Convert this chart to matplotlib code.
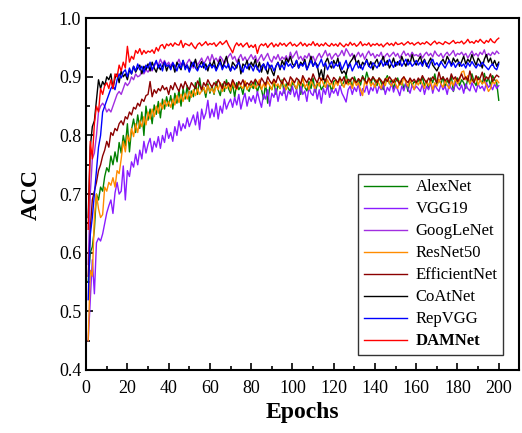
import matplotlib
matplotlib.use('Agg')
import matplotlib.pyplot as plt
import numpy as np

plt.rcParams['font.family'] = ['Liberation Serif', 'DejaVu Serif']
plt.rcParams['mathtext.fontset'] = 'stix'

# accuracy per epoch (x1000)
alexnet = [
    550, 600, 610, 640, 700, 690, 712, 705, 730, 745, 738, 765, 750, 772, 755, 788, 770, 800, 782, 820,
    772, 810, 828, 805, 835, 812, 840, 800, 850, 826, 845, 820, 852, 836, 858, 830, 862, 845, 866, 850,
    868, 845, 872, 855, 878, 850, 880, 862, 885, 858, 876, 866, 890, 870, 898, 875, 882, 865, 888, 872,
    885, 870, 892, 878, 868, 888, 875, 895, 880, 872, 888, 865, 890, 878, 884, 870, 892, 880, 875, 888,
    880, 892, 874, 886, 878, 862, 890, 855, 884, 878, 892, 870, 886, 880, 895, 872, 888, 880, 875, 890,
    885, 878, 895, 870, 888, 882, 876, 892, 880, 898, 874, 886, 890, 878, 884, 896, 880, 888, 875, 892,
    895, 888, 900, 885, 892, 905, 888, 896, 882, 900, 890, 895, 886, 902, 892, 908, 895, 888, 900, 892,
    885, 898, 890, 878, 895, 902, 888, 895, 880, 892, 898, 886, 894, 880, 890, 875, 896, 885, 892, 888,
    895, 888, 900, 885, 892, 880, 898, 890, 905, 886, 895, 888, 900, 882, 894, 888, 902, 875, 890, 898,
    885, 895, 890, 880, 898, 888, 905, 892, 885, 900, 895, 888, 906, 890, 898, 885, 902, 895, 890, 860,
]
vgg19 = [
    450, 520, 588, 530, 617, 625, 620, 632, 650, 668, 680, 690, 667, 702, 720, 700, 705, 748, 690, 740,
    730, 755, 746, 768, 750, 775, 760, 790, 770, 785, 795, 772, 790, 780, 798, 778, 800, 788, 812, 795,
    805, 790, 815, 800, 825, 808, 820, 812, 830, 815, 825, 835, 818, 840, 810, 845, 828, 838, 860, 830,
    845, 832, 855, 828, 850, 838, 862, 845, 855, 862, 848, 865, 852, 870, 845, 860, 872, 850, 866, 858,
    868, 855, 875, 860, 848, 870, 862, 878, 850, 872, 865, 880, 858, 875, 868, 882, 860, 876, 870, 884,
    866, 878, 860, 885, 870, 876, 858, 882, 872, 868, 885, 862, 878, 855, 880, 870, 886, 865, 878, 872,
    880, 868, 885, 872, 865, 857, 878, 884, 870, 882, 875, 888, 868, 880, 874, 886, 870, 882, 876, 888,
    872, 884, 878, 888, 870, 882, 876, 890, 874, 885, 878, 868, 884, 876, 890, 880, 872, 886, 878, 884,
    880, 875, 888, 870, 884, 878, 890, 872, 886, 880, 875, 888, 878, 884, 870, 888, 880, 876, 890, 882,
    878, 886, 872, 888, 880, 876, 890, 882, 874, 888, 880, 884, 876, 890, 882, 886, 878, 888, 880, 885,
]
googlenet = [
    580, 700, 760, 770, 800, 840, 850, 855, 850, 840, 845, 840, 850, 860, 870, 875, 870, 880, 890, 885,
    890, 900, 895, 905, 900, 902, 910, 905, 912, 908, 915, 910, 918, 925, 920, 930, 922, 928, 920, 925,
    918, 925, 915, 922, 930, 920, 926, 918, 924, 930, 922, 915, 928, 920, 926, 932, 922, 928, 935, 925,
    938, 928, 932, 925, 935, 930, 922, 928, 935, 940, 930, 935, 925, 932, 938, 928, 934, 926, 932, 938,
    930, 936, 925, 932, 938, 928, 934, 940, 930, 925, 935, 930, 938, 928, 934, 930, 936, 926, 942, 932,
    938, 944, 930, 935, 928, 936, 932, 940, 930, 935, 926, 934, 940, 932, 938, 945, 935, 940, 930, 936,
    940, 934, 938, 945, 936, 948, 942, 935, 940, 930, 936, 942, 934, 940, 930, 938, 944, 936, 940, 932,
    938, 935, 942, 930, 936, 940, 934, 938, 942, 935, 940, 932, 938, 944, 936, 940, 934, 942, 936, 938,
    935, 940, 932, 938, 942, 936, 940, 934, 944, 938, 935, 940, 932, 938, 942, 936, 940, 945, 935, 940,
    938, 942, 936, 940, 932, 938, 944, 936, 940, 935, 942, 938, 946, 934, 940, 936, 942, 938, 944, 940,
]
resnet50 = [
    450, 570, 560, 660, 700, 675, 660, 665, 712, 705, 720, 715, 728, 712, 740, 735, 760, 790, 772, 800,
    790, 812, 798, 820, 805, 825, 815, 832, 818, 840, 828, 845, 832, 850, 838, 855, 845, 860, 850, 858,
    848, 862, 852, 868, 856, 870, 858, 872, 862, 875, 865, 878, 868, 880, 870, 876, 882, 872, 885, 875,
    880, 872, 885, 878, 890, 875, 884, 880, 888, 876, 892, 882, 878, 890, 884, 880, 893, 878, 886, 882,
    890, 880, 886, 895, 878, 888, 882, 892, 885, 878, 895, 884, 888, 880, 893, 886, 878, 890, 884, 896,
    886, 880, 892, 885, 898, 882, 888, 878, 894, 886, 880, 892, 884, 898, 888, 882, 895, 886, 890, 880,
    892, 885, 898, 888, 882, 895, 886, 890, 880, 894, 885, 890, 878, 868, 892, 886, 898, 884, 890, 882,
    895, 888, 880, 892, 885, 898, 890, 884, 895, 888, 880, 893, 886, 900, 890, 884, 895, 888, 878, 892,
    886, 895, 888, 880, 894, 885, 892, 878, 890, 884, 896, 888, 882, 894, 886, 880, 892, 885, 898, 888,
    894, 908, 910, 895, 902, 888, 896, 890, 900, 886, 895, 888, 892, 885, 875, 880, 892, 888, 895, 890,
]
efficientnet = [
    560, 640, 690, 705, 720, 740, 750, 765, 775, 790, 780, 805, 800, 812, 808, 820, 825, 818, 832, 828,
    840, 835, 848, 845, 855, 850, 862, 858, 868, 870, 892, 866, 878, 872, 880, 876, 885, 878, 882, 870,
    885, 878, 890, 882, 875, 888, 880, 892, 884, 878, 890, 885, 880, 893, 886, 878, 890, 884, 895, 888,
    882, 890, 885, 895, 888, 880, 892, 886, 890, 883, 895, 888, 880, 892, 887, 895, 884, 890, 886, 893,
    888, 896, 890, 885, 898, 892, 886, 900, 893, 888, 896, 890, 902, 894, 888, 898, 892, 886, 900, 895,
    890, 898, 894, 888, 902, 895, 890, 898, 893, 905, 896, 890, 900, 894, 898, 892, 903, 896, 890, 899,
    895, 890, 898, 893, 900, 888, 896, 892, 899, 894, 890, 897, 892, 900, 895, 889, 898, 893, 900, 895,
    890, 898, 894, 888, 897, 892, 900, 895, 890, 898, 893, 888, 896, 900, 894, 890, 898, 892, 896, 890,
    898, 893, 902, 895, 890, 898, 893, 900, 896, 890, 908, 895, 900, 893, 898, 890, 905, 896, 900, 892,
    898, 905, 895, 900, 893, 910, 896, 890, 902, 895, 898, 908, 893, 900, 896, 905, 892, 898, 903, 900,
]
coatnet = [
    660, 780, 815, 825, 860, 895, 880, 892, 885, 900, 895, 905, 880, 898, 905, 890, 910, 900, 905, 895,
    912, 905, 918, 908, 915, 920, 905, 918, 912, 922, 910, 925, 915, 908, 920, 912, 918, 925, 910, 920,
    915, 922, 908, 925, 918, 912, 928, 915, 920, 910, 925, 918, 930, 912, 920, 926, 915, 922, 910, 924,
    918, 928, 912, 922, 930, 915, 925, 935, 918, 910, 925, 920, 915, 930, 905, 922, 918, 928, 912, 925,
    918, 930, 912, 925, 908, 922, 915, 905, 920, 910, 902, 918, 925, 912, 928, 920, 932, 925, 935, 922,
    918, 928, 915, 925, 920, 930, 912, 922, 935, 918, 925, 920, 900, 912, 895, 925, 932, 920, 915, 928,
    920, 932, 915, 906, 910, 904, 918, 925, 930, 937, 922, 928, 915, 925, 920, 930, 918, 926, 912, 924,
    930, 918, 925, 935, 920, 928, 915, 922, 932, 918, 926, 920, 935, 925, 918, 930, 922, 938, 926, 920,
    928, 935, 922, 930, 918, 925, 932, 920, 915, 910, 918, 925, 930, 922, 935, 928, 920, 932, 925, 930,
    918, 926, 935, 922, 930, 925, 938, 928, 920, 932, 926, 915, 930, 938, 925, 932, 920, 928, 918, 925,
]
repvgg = [
    520, 630, 660, 700, 740, 780, 800, 840, 850, 860, 870, 880, 885, 878, 895, 905, 898, 908, 912, 900,
    915, 905, 918, 910, 922, 912, 918, 908, 920, 915, 925, 912, 920, 928, 915, 922, 910, 925, 918, 920,
    912, 924, 918, 910, 922, 915, 928, 912, 920, 908, 918, 925, 915, 910, 920, 916, 924, 912, 918, 922,
    915, 920, 910, 918, 925, 912, 920, 915, 922, 910, 918, 912, 920, 925, 915, 908, 920, 914, 922, 918,
    910, 920, 915, 908, 918, 922, 912, 925, 915, 920, 910, 918, 924, 915, 920, 912, 926, 918, 922, 915,
    920, 928, 915, 922, 918, 925, 912, 920, 928, 918, 925, 915, 922, 930, 918, 924, 912, 920, 926, 915,
    922, 918, 925, 912, 920, 928, 915, 922, 910, 918, 925, 915, 920, 912, 922, 928, 918, 915, 924, 920,
    915, 922, 928, 918, 925, 920, 930, 922, 916, 925, 920, 928, 918, 924, 930, 920, 926, 918, 922, 928,
    920, 925, 918, 928, 922, 915, 925, 930, 920, 924, 918, 926, 920, 915, 922, 928, 918, 924, 916, 922,
    925, 918, 922, 915, 924, 918, 926, 920, 915, 922, 918, 925, 920, 916, 912, 918, 922, 915, 912, 922,
]
damnet = [
    640, 790, 760, 820, 850, 840, 880, 870, 885, 890, 880, 895, 880, 905, 900, 920, 910, 925, 915, 952,
    925, 935, 930, 945, 940, 948, 938, 945, 940, 944, 942, 946, 940, 950, 944, 953, 955, 948, 956, 953,
    957, 952, 958, 955, 954, 962, 950, 957, 955, 953, 958, 952, 948, 955, 958, 953, 956, 960, 954, 957,
    955, 958, 952, 956, 960, 955, 958, 962, 954, 948, 941, 952, 958, 953, 957, 951, 955, 958, 950, 954,
    950, 955, 940, 952, 956, 953, 957, 950, 955, 958, 951, 956, 952, 958, 954, 957, 952, 956, 959, 953,
    956, 952, 955, 959, 953, 957, 952, 956, 954, 960, 953, 957, 952, 956, 953, 958, 954, 952, 957, 953,
    956, 952, 958, 954, 951, 956, 953, 959, 954, 957, 952, 955, 960, 953, 956, 954, 958, 952, 956, 954,
    957, 953, 956, 951, 955, 958, 954, 957, 953, 959, 955, 956, 958, 954, 957, 960, 956, 958, 954, 957,
    959, 955, 958, 956, 960, 957, 954, 958, 961, 956, 959, 957, 955, 960, 958, 956, 959, 962, 957, 959,
    958, 961, 956, 959, 964, 958, 960, 957, 962, 959, 964, 960, 957, 962, 959, 965, 960, 958, 963, 966,
]

series = [
    ('AlexNet', alexnet, '#008000'),
    ('VGG19', vgg19, '#8a1cff'),
    ('GoogLeNet', googlenet, '#a12ee0'),
    ('ResNet50', resnet50, '#ff8c00'),
    ('EfficientNet', efficientnet, '#8b0000'),
    ('CoAtNet', coatnet, '#000000'),
    ('RepVGG', repvgg, '#0000ff'),
    ('DAMNet', damnet, '#ff0000'),
]

fig = plt.figure(figsize=(5.22, 4.33), dpi=100)
ax = fig.add_axes([0.165, 0.1455, 0.83, 0.8125])

for name, acc, color in series:
    epochs = np.arange(1, len(acc) + 1)
    ax.plot(epochs, np.array(acc) / 1000.0, color=color, lw=1.0, label=name)

ax.set_xlim(0, 210)
ax.set_ylim(0.4, 1.0)
ax.set_xticks(np.arange(0, 201, 20))
ax.set_xticks(np.arange(10, 211, 20), minor=True)
ax.set_yticks(np.arange(0.4, 1.01, 0.1))
ax.set_yticks(np.arange(0.45, 1.0, 0.1), minor=True)
ax.yaxis.set_major_formatter(matplotlib.ticker.FormatStrFormatter('%.1f'))
ax.tick_params(which='both', direction='in', labelsize=13, width=1.2)
ax.tick_params(which='major', length=5)
ax.tick_params(which='minor', length=3)
ax.tick_params(axis='x', pad=7)
for sp in ax.spines.values():
    sp.set_linewidth(1.5)

ax.set_xlabel('Epochs', fontsize=17, fontweight='bold', labelpad=4)
ax.set_ylabel('ACC', fontsize=17, fontweight='bold', labelpad=12)

leg = ax.legend(loc='lower right', bbox_to_anchor=(0.962, 0.043), fontsize=12,
                frameon=True, fancybox=False, edgecolor='black', handlelength=2.6,
                labelspacing=0.36, borderpad=0.33, handletextpad=0.5, borderaxespad=0)
leg.get_frame().set_linewidth(1.0)
leg.get_texts()[-1].set_fontweight('bold')

fig.savefig('out.png', dpi=100)
